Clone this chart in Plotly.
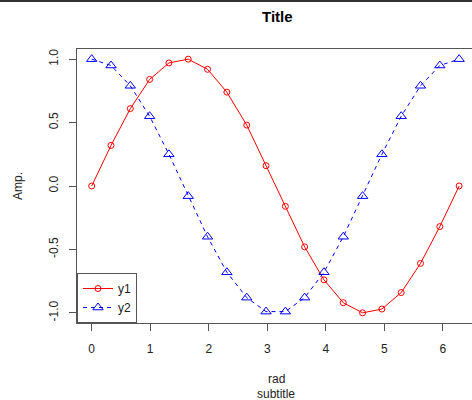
import plotly.graph_objects as go

x = [0.00, 0.33, 0.66, 0.99, 1.32, 1.65, 1.98, 2.31, 2.65, 2.98,
     3.31, 3.64, 3.97, 4.30, 4.63, 4.96, 5.29, 5.62, 5.95, 6.28]
y1 = [0.00, 0.32, 0.61, 0.84, 0.97, 1.00, 0.92, 0.74, 0.48, 0.16,
      -0.16, -0.48, -0.74, -0.92, -1.00, -0.97, -0.84, -0.61, -0.32, 0.00]
y2 = [1.00, 0.95, 0.79, 0.55, 0.25, -0.08, -0.40, -0.68, -0.88, -0.99,
      -0.99, -0.88, -0.68, -0.40, -0.08, 0.25, 0.55, 0.79, 0.95, 1.00]
x_ticks = [0, 1, 2, 3, 4, 5, 6]
y_ticks = [-1.0, -0.5, 0.0, 0.5, 1.0]
y_tick_labels = ["-1.0", "-0.5", "0.0", "0.5", "1.0"]

FONT = "Liberation Sans, Arial, sans-serif"
AX = "#555555"
L, R, T, B = 77, 0, 49, 77
W, H = 472, 400

pw, ph = W - L - R, H - T - B
def px_to_paper_x(px):
    return (px - L) / pw
def px_to_paper_y(py):
    return (H - B - py) / ph

fig = go.Figure()
fig.add_trace(go.Scatter(
    x=x, y=y1, name="y1", mode="lines+markers",
    line=dict(color="#FF0000", width=1),
    marker=dict(symbol="circle-open", size=6, color="#FF0000", line=dict(width=1)),
))
fig.add_trace(go.Scatter(
    x=x, y=y2, name="y2", mode="lines+markers",
    line=dict(color="#0000FF", width=1, dash="4px,4px"),
    marker=dict(symbol="triangle-up-open", size=9, color="#0000FF", line=dict(width=1)),
))

def ann(text, px, py, size=12, color="#222222", angle=0):
    return dict(text=text, x=px_to_paper_x(px), y=px_to_paper_y(py),
                xref="paper", yref="paper", xanchor="center", yanchor="middle",
                showarrow=False, textangle=angle,
                font=dict(size=size, color=color, family=FONT))

fig.update_layout(
    width=W, height=H,
    margin=dict(l=L, r=R, t=T, b=B),
    paper_bgcolor="white", plot_bgcolor="white",
    font=dict(family=FONT, size=12, color="#222222"),
    showlegend=True,
    legend=dict(
        x=0, y=0, xanchor="left", yanchor="bottom",
        bgcolor="white", bordercolor=AX, borderwidth=1,
        font=dict(size=12, color="#222222"),
        tracegroupgap=0, itemwidth=30,
    ),
    xaxis=dict(
        range=[-0.2513, 6.50], tickmode="array", tickvals=x_ticks,
        showgrid=False, zeroline=False,
        showline=True, linecolor=AX, linewidth=1, mirror=True,
        ticks="outside", ticklen=7, tickcolor=AX, ticklabelstandoff=8,
    ),
    yaxis=dict(
        range=[-1.08, 1.08], tickmode="array", tickvals=y_ticks,
        ticktext=y_tick_labels, tickangle=-90,
        showgrid=False, zeroline=False,
        showline=True, linecolor=AX, linewidth=1,
        ticks="outside", ticklen=7, tickcolor=AX, ticklabelstandoff=6,
    ),
    annotations=[
        ann("<b>Title</b>", 277, 17, size=15, color="black"),
        ann("rad", 276, 379),
        ann("subtitle", 276, 394),
        ann("Amp.", 18, 186, angle=-90),
    ],
    shapes=[
        dict(type="line", xref="paper", yref="paper",
             x0=px_to_paper_x(0), x1=px_to_paper_x(W),
             y0=px_to_paper_y(1), y1=px_to_paper_y(1),
             line=dict(color="#333333", width=2)),
    ],
)

fig.write_html("out.html", config={"displayModeBar": False},
               post_script="document.body.style.margin='0';")
